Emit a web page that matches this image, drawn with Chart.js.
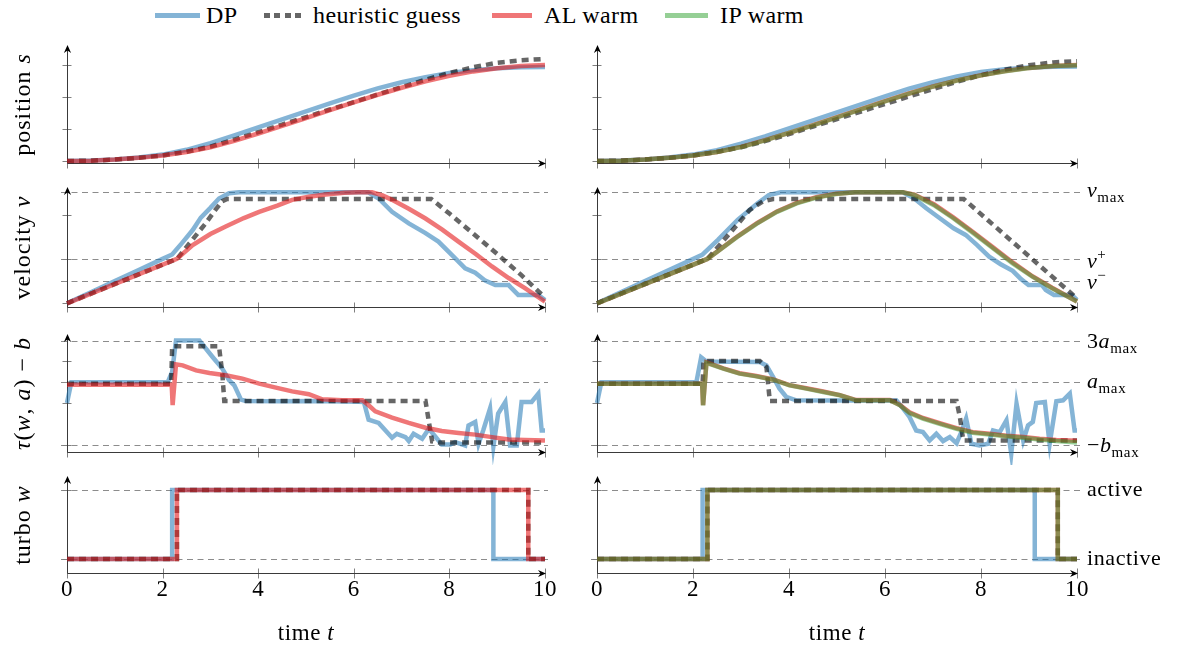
<!DOCTYPE html>
<html lang="en">
<head>
<meta charset="UTF-8">
<title>DP vs warm-started solvers</title>
<script src="https://cdn.jsdelivr.net/npm/chart.js@4.4.0/dist/chart.umd.min.js"></script>
<style>
  body { margin: 0; background: #fff; font-family: "Liberation Serif", serif; }
  #wrap { position: relative; width: 1178px; height: 650px; overflow: hidden; }
  #wrap canvas { position: absolute; }
  .leg { position: absolute; top: 0; height: 30px; display: flex; align-items: center; font-size: 24px; letter-spacing: 0.4px; color: #000; white-space: nowrap; }
  .leg .s { height: 5px; }
</style>
</head>
<body>
<div id="wrap">
  <div class="leg" style="left:155px"><span class="s" style="width:45px;margin-right:6px;background:rgba(31,119,180,0.55)"></span>DP</div>
  <div class="leg" style="left:264px"><span class="s" style="width:37px;margin-right:12px;background:repeating-linear-gradient(90deg,rgba(0,0,0,0.6) 0 6px,transparent 6px 10.5px)"></span>heuristic guess</div>
  <div class="leg" style="left:492px"><span class="s" style="width:40px;margin-right:12px;background:rgba(228,26,28,0.6)"></span>AL warm</div>
  <div class="leg" style="left:665px"><span class="s" style="width:43px;margin-right:12px;background:rgba(44,160,44,0.5)"></span>IP warm</div>
</div>
<script>
// ---- data ----
const xTicks = [0, 2, 4, 6, 8, 10];
const xTickLabels = ['0', '2', '4', '6', '8', '10'];

// position s [m], sampled every 0.5 s
const timePos = [0, 0.5, 1, 1.5, 2, 2.5, 3, 3.5, 4, 4.5, 5, 5.5, 6, 6.5, 7, 7.5, 8, 8.5, 9, 9.5, 10];
const posDPLeft    = [0, 0.6, 2.3, 5.5, 10, 17.5, 28, 40, 52.5, 65, 77.5, 90, 102, 113.5, 123, 131, 137.5, 142, 145, 146.3, 146.8];
const posHeurLeft  = [0, 0.5, 2.2, 4.9, 8.7, 14.5, 22.5, 33.5, 45, 57, 68.5, 80.5, 92, 104, 115.5, 127, 137.5, 146.5, 153.5, 157.5, 159.5];
const posALLeft    = [0, 0.55, 2.2, 4.9, 8.7, 14, 21.5, 31.5, 43, 55, 67, 79.5, 91.5, 103.5, 114.5, 124.5, 133, 140, 145, 148.5, 150];
const posDPRight   = [0, 0.6, 2.3, 5.5, 10, 17, 27, 38.5, 51, 63.5, 76, 88.5, 101, 113, 123, 132, 139, 143.5, 146, 147.2, 147.6];
const posHeurRight = [0, 0.5, 2.2, 4.9, 8.7, 14.3, 21.5, 31, 42, 53.8, 65.5, 77.3, 89, 100.8, 112.5, 124, 134, 142.8, 149.8, 154, 156];
const posALRight   = [0, 0.55, 2.2, 4.9, 8.7, 14.2, 22, 32.5, 44, 56, 68.5, 81, 93.5, 105.5, 116.5, 126, 134, 140.5, 145.5, 148.5, 150];
const posIPRight   = [0, 0.55, 2.2, 4.9, 8.7, 14.1, 21.8, 32.3, 43.8, 55.8, 68.3, 80.8, 93.3, 105.3, 116.3, 125.8, 133.8, 140.3, 145.3, 148.3, 149.8];
const posTicks = [0, 50, 100, 150];

// velocity v [m/s] as [t, v]
const velDPLeft = [[0,0],[0.5,2.5],[1,5],[1.5,7.5],[2,10],[2.2,11],[2.4,13.5],[2.63,16.5],[2.8,19.3],[3,21.5],[3.18,23.6],[3.39,24.8],[3.6,25],[6.3,25],
  [6.52,23.6],[6.8,20.6],[7.15,18],[7.5,15.8],[7.77,13.9],[8.05,10.9],[8.33,7.9],[8.54,6.9],[8.75,5.1],[8.96,4.1],[9.24,4.1],[9.3,3.4],[9.44,1.9],[9.86,1.9],[10,0.75]];
const velHeurLeft = [[0,0],[2.3,10],[2.6,14],[2.9,18],[3.1,21],[3.25,23],[3.35,23.5],[7.62,23.5],[8,20.2],[8.5,15.7],[9,11.1],[9.5,6.4],[10,1.3]];
const velALLeft = [[0,0],[2.3,10],[2.63,13.1],[3,15.6],[3.32,17.3],[3.7,19.2],[4.02,20.6],[4.4,22],[4.71,23.3],[5.06,24],[5.41,24.5],[5.8,24.9],[6.1,25],[6.38,25],
  [6.6,24.3],[6.8,23.3],[7.15,21.3],[7.5,19.1],[7.85,16.6],[8.19,13.9],[8.55,11.1],[8.89,8.3],[9.24,5.7],[9.58,3.4],[10,0.4]];
const velDPRight = [[0,0],[1,5],[2.19,10.9],[2.52,14.3],[2.93,18.8],[3.34,22.5],[3.58,24.4],[3.83,25],[6.37,25],[6.61,23.6],[6.86,21.4],[7.1,19.5],[7.43,16.9],
  [7.68,15.4],[7.92,13.1],[8.17,10.5],[8.41,8.8],[8.66,7.3],[8.82,5.6],[8.99,4.1],[9.27,4.1],[9.35,3],[9.52,1.9],[9.89,1.9],[10,0.75]];
const velHeurRight = [[0,0],[2.3,10],[2.77,15.8],[3.18,21],[3.45,22.9],[3.67,23.5],[7.64,23.5],[10,1.1]];
const velALRight = [[0,0],[2.3,10],[2.93,15.1],[3.34,18.1],[3.75,20.7],[4.16,22.6],[4.57,23.9],[4.98,24.7],[5.38,25],[6.37,25],[6.61,24.5],[7.02,22.3],
  [7.43,19.3],[7.84,16],[8.25,12.6],[8.66,9.2],[9.07,6.1],[9.48,3.5],[10,0.4]];
const velIPRight = [[0,0],[2.3,10],[2.93,15],[3.34,18],[3.75,20.6],[4.16,22.5],[4.57,23.8],[4.98,24.6],[5.38,25],[6.37,25],[6.61,24.4],[7.02,22.1],
  [7.43,19.1],[7.84,15.8],[8.25,12.4],[8.66,9],[9.07,6],[9.48,3.4],[10,0.4]];
const velTicks = [0, 10, 20];
const velRefs = [25, 10, 5];

// tau(w,a) - b in units of a_max, as [t, value]
const tauDPLeft = [[0,0],[0.09,1],[2.11,1.01],[2.2,1.5],[2.28,3],[2.77,3],[3.05,2.2],[3.25,1.65],[3.39,1.1],[3.5,0.85],[3.64,0.16],[3.74,0.1],[4.5,0.08],
  [5.2,0.1],[6.1,0.06],[6.21,0.05],[6.31,-0.8],[6.52,-0.96],[6.63,-1.24],[6.8,-1.67],[6.9,-1.48],[7.08,-1.64],[7.15,-1.83],[7.25,-1.48],[7.43,-1.72],
  [7.57,-1.24],[7.7,-1.6],[7.84,-2],[8.02,-2],[8.12,-1.88],[8.33,-2.04],[8.4,-1.08],[8.54,-0.91],[8.61,-1.96],[8.71,-1.3],[8.85,-0.27],[8.92,-2.09],
  [9.02,-0.51],[9.17,0.05],[9.27,-2.04],[9.41,-2.04],[9.51,0.05],[9.72,0.05],[9.86,0.45],[9.93,-1.32],[10,-1.32]];
const tauHeurLeft = [[0,0.92],[2.18,0.92],[2.2,2.73],[3.18,2.73],[3.25,1.4],[3.29,0.1],[7.5,0.1],[7.57,-0.9],[7.64,-1.85],[7.77,-1.9],[10,-1.9]];
const tauALLeft = [[0,0.88],[2.19,0.88],[2.21,-0.1],[2.28,1.86],[2.42,1.81],[2.7,1.57],[2.98,1.44],[3.32,1.33],[3.67,1.17],[4.02,0.93],[4.37,0.74],
  [4.71,0.56],[5.06,0.42],[5.34,0.18],[5.76,0.13],[6.18,0.13],[6.31,-0.11],[6.45,-0.4],[6.8,-0.7],[7.15,-0.96],[7.5,-1.19],[7.84,-1.35],[8.19,-1.44],
  [8.54,-1.52],[8.89,-1.64],[9.24,-1.75],[9.58,-1.78],[10,-1.8]];
const tauDPRight = [[0,0],[0.09,1],[2.07,1],[2.17,2.2],[2.28,2],[3.39,1.97],[3.53,1.8],[3.67,1.25],[3.8,0.7],[3.94,0.3],[4.15,0.13],[5,0.12],[6.24,0.12],
  [6.38,-0.27],[6.51,-0.67],[6.65,-1.32],[6.79,-1.4],[6.93,-1.8],[7.07,-1.48],[7.21,-1.83],[7.35,-1.64],[7.49,-1.93],[7.59,-1.4],[7.69,-0.75],[7.8,-1.96],
  [7.97,-2.04],[8.15,-1.96],[8.25,-1.32],[8.39,-1.4],[8.53,-0.83],[8.63,-2.44],[8.74,-0.03],[8.88,-1.8],[8.98,-1.08],[9.08,-0.91],[9.15,0],[9.33,0.05],
  [9.43,-1.96],[9.57,0.08],[9.71,0.13],[9.85,0.45],[9.95,-1.32],[10,-1.32]];
const tauHeurRight = [[0,0.92],[2.2,0.92],[2.22,2.02],[3.39,2.02],[3.53,1.73],[3.6,0.1],[7.49,0.1],[7.56,-0.67],[7.63,-1.8],[10,-1.8]];
const tauALRight = [[0,0.92],[2.19,0.92],[2.21,-0.1],[2.28,1.95],[2.63,1.66],[2.97,1.43],[3.32,1.3],[3.67,1.13],[4.01,0.86],[4.36,0.71],[4.71,0.55],
  [5.06,0.38],[5.4,0.14],[6.1,0.14],[6.31,-0.09],[6.51,-0.45],[6.79,-0.72],[7.14,-0.97],[7.49,-1.21],[7.83,-1.4],[8.18,-1.48],[8.53,-1.57],[8.88,-1.64],
  [9.22,-1.72],[9.57,-1.78],[10,-1.82]];
const tauIPRight = [[0,0.92],[2.19,0.92],[2.21,-0.11],[2.28,1.93],[2.63,1.65],[2.97,1.41],[3.32,1.28],[3.67,1.12],[4.01,0.85],[4.36,0.69],[4.71,0.53],
  [5.06,0.37],[5.4,0.13],[6.1,0.13],[6.31,-0.11],[6.51,-0.48],[6.79,-0.75],[7.14,-1],[7.49,-1.24],[7.83,-1.43],[8.18,-1.51],[8.53,-1.6],[8.88,-1.67],
  [9.22,-1.75],[9.57,-1.83],[10,-1.9]];
const tauTicks = [-2, 0, 2];
const tauRefs = [3, 1, -2];

// turbo w (0 inactive, 1 active), switching instants
const turboDPLeft = [[0,0],[2.2,1],[8.92,0],[10,0]];
const turboHeurLeft = [[0,0],[2.3,1],[9.65,0],[10,0]];
const turboALLeft = [[0,0],[2.3,1],[9.65,0],[10,0]];
const turboDPRight = [[0,0],[2.2,1],[9.12,0],[10,0]];
const turboHeurRight = [[0,0],[2.3,1],[9.6,0],[10,0]];
const turboALRight = [[0,0],[2.3,1],[9.6,0],[10,0]];
const turboIPRight = [[0,0],[2.3,1],[9.6,0],[10,0]];
const turboTicks = [0, 1];
const turboRefs = [1, 0];

// ---- styling ----
const FONT = '"Liberation Serif", "DejaVu Serif", serif';
const C = { dp: 'rgba(31,119,180,0.55)', heur: 'rgba(0,0,0,0.6)', al: 'rgba(228,26,28,0.6)', ip: 'rgba(44,160,44,0.5)' };

const zip = (ts, vs) => ts.map((t, i) => ({ x: t, y: vs[i] }));
const pts = arr => arr.map(p => ({ x: p[0], y: p[1] }));

function line(label, data, color, order, extra) {
  return Object.assign({
    label, data, borderColor: color, borderWidth: 4.5, pointRadius: 0, fill: false,
    tension: 0, order, clip: false, borderCapStyle: 'butt', borderJoinStyle: 'miter'
  }, extra || {});
}
const dash = { borderDash: [7, 5] };
const step = { stepped: 'before' };

function fontOf(p, base) { return (p.it ? 'italic ' : '') + (p.size || base) + 'px ' + FONT; }
function richWidth(ctx, parts, base) {
  let w = 0;
  parts.forEach(p => { ctx.font = fontOf(p, base); w += ctx.measureText(p.t).width; });
  return w;
}
function drawRich(ctx, parts, x, y, base) {
  parts.forEach(p => {
    ctx.font = fontOf(p, base);
    ctx.fillText(p.t, x, y + (p.dy || 0));
    x += ctx.measureText(p.t).width;
  });
}
function arrowHead(ctx, x, y, ang) {
  ctx.save();
  ctx.translate(x, y); ctx.rotate(ang);
  ctx.beginPath();
  ctx.moveTo(0, 0); ctx.lineTo(-8, -3.6); ctx.lineTo(-5.5, 0); ctx.lineTo(-8, 3.6); ctx.closePath();
  ctx.fillStyle = '#000'; ctx.fill();
  ctx.restore();
}

const decor = {
  id: 'decor',
  beforeDatasetsDraw(chart, args, o) {
    const { ctx, chartArea: a, scales: { x, y } } = chart;
    const L = Math.round(a.left) + 0.5, B = Math.round(a.bottom) + 0.5;
    ctx.save();
    ctx.lineWidth = 1;
    // dashed reference levels
    ctx.strokeStyle = '#8c8c8c';
    ctx.setLineDash([6, 4.5]);
    o.refs.forEach(v => {
      const py = Math.round(y.getPixelForValue(v)) + 0.5;
      ctx.beginPath(); ctx.moveTo(a.left - 6, py); ctx.lineTo(a.right + 3, py); ctx.stroke();
    });
    ctx.setLineDash([]);
    // tick marks
    ctx.strokeStyle = '#808080';
    o.yTicks.forEach(v => {
      const py = Math.round(y.getPixelForValue(v)) + 0.5;
      ctx.beginPath(); ctx.moveTo(L - 5, py); ctx.lineTo(L + 4, py); ctx.stroke();
    });
    xTicks.forEach(v => {
      const px = Math.round(x.getPixelForValue(v)) + 0.5;
      ctx.beginPath(); ctx.moveTo(px, B - 5); ctx.lineTo(px, B + 5); ctx.stroke();
    });
    // axis lines
    ctx.strokeStyle = '#3a3a3a';
    ctx.beginPath(); ctx.moveTo(L, B); ctx.lineTo(a.right - 3, B); ctx.stroke();
    ctx.beginPath(); ctx.moveTo(L, B); ctx.lineTo(L, a.top + 3); ctx.stroke();
    arrowHead(ctx, a.right + 1, B, 0);
    arrowHead(ctx, L, a.top - 1, -Math.PI / 2);
    ctx.restore();
  },
  afterDraw(chart, args, o) {
    const { ctx, chartArea: a, scales: { x, y } } = chart;
    ctx.save();
    ctx.fillStyle = '#000';
    ctx.textBaseline = 'alphabetic';
    if ('letterSpacing' in ctx) ctx.letterSpacing = '1px';
    if (o.title) {
      const w = richWidth(ctx, o.title, 24);
      ctx.save();
      ctx.translate(30, (a.top + a.bottom) / 2);
      ctx.rotate(-Math.PI / 2);
      drawRich(ctx, o.title, -w / 2, 0, 24);
      ctx.restore();
    }
    if ('letterSpacing' in ctx) ctx.letterSpacing = '0.6px';
    (o.labels || []).forEach(lb => {
      drawRich(ctx, lb.parts, a.right + 10, y.getPixelForValue(lb.v) + lb.dy, 22);
    });
    if (o.bottom) {
      ctx.textAlign = 'center';
      ctx.font = '23px ' + FONT;
      xTicks.forEach((v, i) => ctx.fillText(xTickLabels[i], x.getPixelForValue(v), a.bottom + 23));
      ctx.textAlign = 'left';
      const parts = [{ t: 'time ' }, { t: 't', it: 1 }];
      const w = richWidth(ctx, parts, 23);
      drawRich(ctx, parts, (a.left + a.right) / 2 - w / 2, a.bottom + 67, 23);
    }
    ctx.restore();
  }
};

// ---- layout of the 4x2 panels ----
const COLS = [
  { left: 0, width: 580, padL: 67, padR: 35 },
  { left: 580, width: 598, padL: 17, padR: 101 }
];
const ROWS = [
  { top: 28, height: 147, padT: 18, padB: 12, min: -3.125, max: 179.7, ticks: posTicks, refs: [],
    title: [{ t: 'position ' }, { t: 's', it: 1 }], labels: [] },
  { top: 175, height: 145, padT: 13, padB: 13, min: -0.83, max: 25.97, ticks: velTicks, refs: velRefs,
    title: [{ t: 'velocity ' }, { t: 'v', it: 1 }],
    labels: [
      { v: 25, dy: 5, parts: [{ t: 'v', it: 1 }, { t: 'max', size: 15, dy: 5 }] },
      { v: 10, dy: 9, parts: [{ t: 'v', it: 1 }, { t: '+', size: 15, dy: -9 }] },
      { v: 5, dy: 8, parts: [{ t: 'v', it: 1 }, { t: '−', size: 15, dy: -9 }] }
    ] },
  { top: 320, height: 145, padT: 15, padB: 13, min: -2.356, max: 3.269, ticks: tauTicks, refs: tauRefs,
    title: [{ t: 'τ', it: 1 }, { t: '(' }, { t: 'w', it: 1 }, { t: ', ' }, { t: 'a', it: 1 }, { t: ') − ' }, { t: 'b', it: 1 }],
    labels: [
      { v: 3, dy: 7, parts: [{ t: '3' }, { t: 'a', it: 1 }, { t: 'max', size: 15, dy: 5 }] },
      { v: 1, dy: 6, parts: [{ t: 'a', it: 1 }, { t: 'max', size: 15, dy: 5 }] },
      { v: -2, dy: 7, parts: [{ t: '−' }, { t: 'b', it: 1 }, { t: 'max', size: 15, dy: 5 }] }
    ] },
  { top: 465, height: 185, padT: 12, padB: 77, min: -0.203, max: 1.188, ticks: turboTicks, refs: turboRefs,
    title: [{ t: 'turbo ' }, { t: 'w', it: 1 }],
    labels: [
      { v: 1, dy: 6, parts: [{ t: 'active' }] },
      { v: 0, dy: 6, parts: [{ t: 'inactive' }] }
    ] }
];

const PANELS = [
  // left column: DP, heuristic, AL warm
  [[line('DP', zip(timePos, posDPLeft), C.dp, 4), line('heuristic guess', zip(timePos, posHeurLeft), C.heur, 3, dash),
    line('AL warm', zip(timePos, posALLeft), C.al, 2)],
   [line('DP', pts(velDPLeft), C.dp, 4), line('heuristic guess', pts(velHeurLeft), C.heur, 3, dash),
    line('AL warm', pts(velALLeft), C.al, 2)],
   [line('DP', pts(tauDPLeft), C.dp, 4), line('heuristic guess', pts(tauHeurLeft), C.heur, 3, dash),
    line('AL warm', pts(tauALLeft), C.al, 2)],
   [line('DP', pts(turboDPLeft), C.dp, 4, step), line('heuristic guess', pts(turboHeurLeft), C.heur, 3, Object.assign({}, dash, step)),
    line('AL warm', pts(turboALLeft), C.al, 2, step)]],
  // right column: DP, heuristic, AL warm, IP warm
  [[line('DP', zip(timePos, posDPRight), C.dp, 4), line('heuristic guess', zip(timePos, posHeurRight), C.heur, 3, dash),
    line('AL warm', zip(timePos, posALRight), C.al, 2), line('IP warm', zip(timePos, posIPRight), C.ip, 1)],
   [line('DP', pts(velDPRight), C.dp, 4), line('heuristic guess', pts(velHeurRight), C.heur, 3, dash),
    line('AL warm', pts(velALRight), C.al, 2), line('IP warm', pts(velIPRight), C.ip, 1)],
   [line('DP', pts(tauDPRight), C.dp, 4), line('heuristic guess', pts(tauHeurRight), C.heur, 3, dash),
    line('AL warm', pts(tauALRight), C.al, 2), line('IP warm', pts(tauIPRight), C.ip, 1)],
   [line('DP', pts(turboDPRight), C.dp, 4, step), line('heuristic guess', pts(turboHeurRight), C.heur, 3, Object.assign({}, dash, step)),
    line('AL warm', pts(turboALRight), C.al, 2, step), line('IP warm', pts(turboIPRight), C.ip, 1, step)]]
];

const wrap = document.getElementById('wrap');
COLS.forEach((col, ci) => {
  ROWS.forEach((row, ri) => {
    const cv = document.createElement('canvas');
    cv.width = col.width; cv.height = row.height;
    cv.style.left = col.left + 'px'; cv.style.top = row.top + 'px';
    wrap.appendChild(cv);
    new Chart(cv, {
      type: 'line',
      data: { datasets: PANELS[ci][ri] },
      options: {
        responsive: false,
        animation: false,
        events: [],
        layout: { padding: { left: col.padL, right: col.padR, top: row.padT, bottom: row.padB } },
        scales: {
          x: { type: 'linear', min: 0, max: 10, display: false },
          y: { type: 'linear', min: row.min, max: row.max, display: false }
        },
        plugins: {
          legend: { display: false },
          tooltip: { enabled: false },
          decor: {
            refs: row.refs,
            yTicks: row.ticks,
            title: ci === 0 ? row.title : null,
            labels: ci === 1 ? row.labels : [],
            bottom: ri === ROWS.length - 1
          }
        }
      },
      plugins: [decor]
    });
  });
});
</script>
</body>
</html>
